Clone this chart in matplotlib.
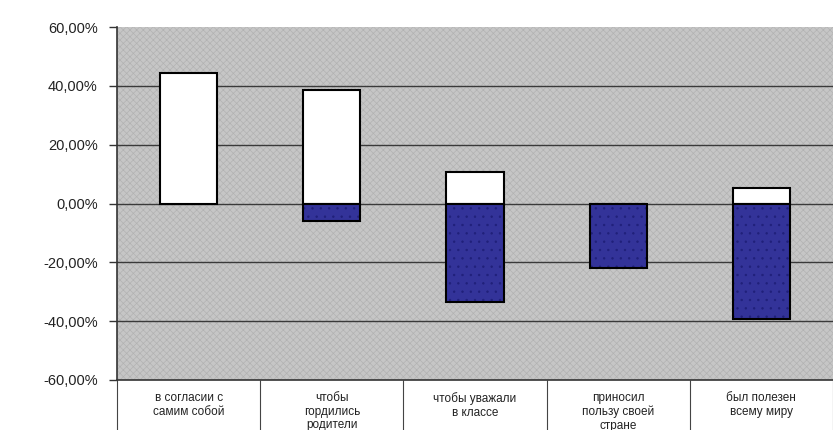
import matplotlib
matplotlib.use("Agg")
import matplotlib.pyplot as plt
import numpy as np

##########################################
# Data
categories = ["в согласии с\nсамим собой", "чтобы\nгордились\nродители",
              "чтобы уважали\nв классе", "приносил\nпользу своей\nстране",
              "был полезен\nвсему миру"]
positive = [44.4, 38.6, 10.8, 0.0, 5.4]
negative = [0.0, -5.8, -33.6, -22.0, -39.3]
yticks = [-60, -40, -20, 0, 20, 40, 60]

plt.rcParams['font.family'] = ['Liberation Sans', 'DejaVu Sans']
plt.rcParams['hatch.linewidth'] = 0.5

fig = plt.figure(figsize=(8.33, 4.3), dpi=100)
ax = fig.add_axes([0.1405, 0.1163, 0.8595, 0.8207])

ax.set_facecolor('#c6c6c6')
x = np.arange(len(categories))

# background texture (fine crosses like the old excel fill)
ax.bar(2, 120, bottom=-60, width=6, color='#c6c6c6', edgecolor='#b2b2b2',
       hatch='xxxxx', linewidth=0, zorder=0)

for v in yticks[1:-1]:
    ax.axhline(v, color='#3a3a3a', linewidth=1.0, zorder=1)

ax.bar(x, positive, width=0.4, color='white', edgecolor='black',
       linewidth=1.5, zorder=3)

# negative series: navy with small dots, then a black outline
idx = [i for i, v in enumerate(negative) if v != 0]
nx = [x[i] for i in idx]
nv = [negative[i] for i in idx]
ax.bar(nx, nv, width=0.4, color='#333399', edgecolor='#20207a', hatch='..',
       linewidth=0, zorder=3)
ax.bar(nx, nv, width=0.4, color='none', edgecolor='black', linewidth=1.5, zorder=4)

ax.set_xlim(-0.5, len(categories) - 0.5)
ax.set_ylim(-60, 60)
ax.set_yticks(yticks)
ax.set_yticklabels([f"{v},00%" for v in yticks], fontsize=10.5, color='#222222')
ax.tick_params(axis='y', direction='out', length=6, width=1, color='#333333', pad=8)

ax.set_xticks(x)
ax.set_xticklabels(categories, fontsize=8.5, color='#222222', va='top', linespacing=1.15)
ax.tick_params(axis='x', which='major', length=0, pad=9)
ax.set_xticks(np.arange(-0.5, len(categories)), minor=True)
ax.tick_params(axis='x', which='minor', direction='out', length=40, width=0.8, color='#444444')

for side in ['top', 'right']:
    ax.spines[side].set_visible(False)
ax.spines['left'].set_color('#333333')
ax.spines['left'].set_linewidth(1.2)
ax.spines['bottom'].set_color('#333333')
ax.spines['bottom'].set_linewidth(1.2)

fig.savefig("out.png", dpi=100)
